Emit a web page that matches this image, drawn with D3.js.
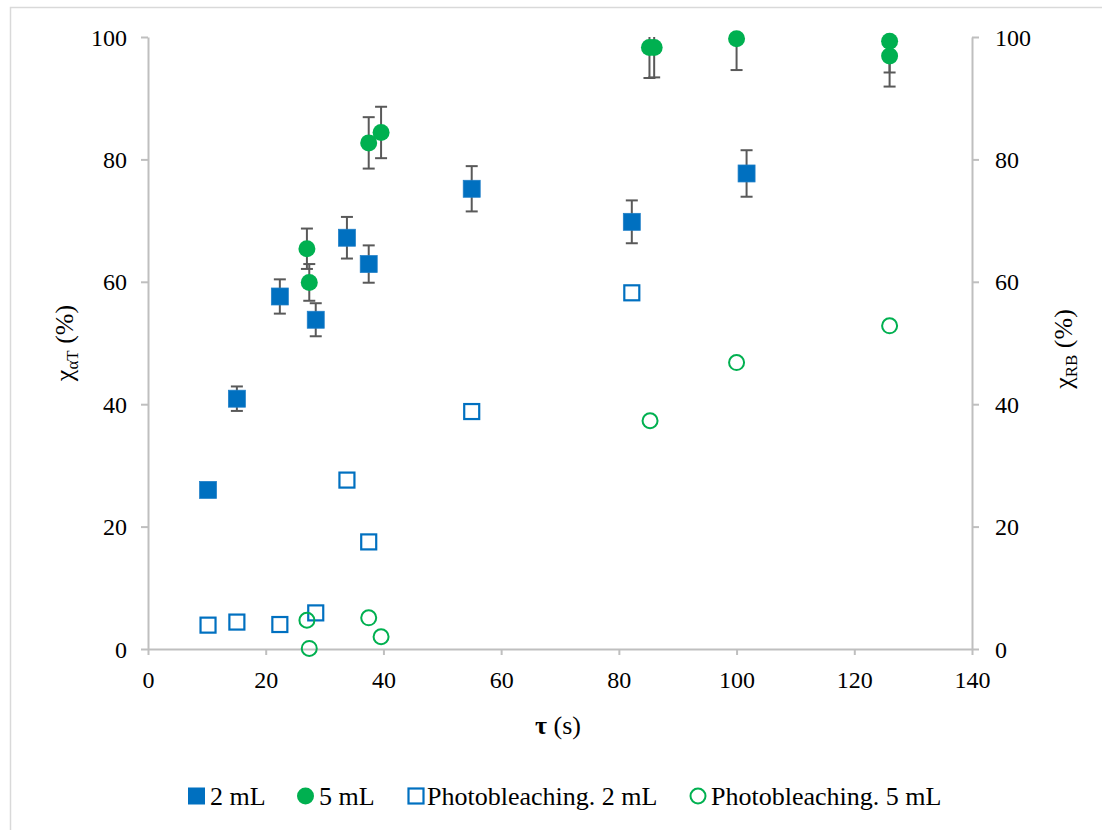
<!DOCTYPE html>
<html><head><meta charset="utf-8">
<script src="https://cdn.jsdelivr.net/npm/d3@7"></script>
<style>
html,body{margin:0;padding:0;background:#fff;}
svg text{font-family:"Liberation Serif","Tinos","DejaVu Serif",serif !important;fill:#000;}
</style></head>
<body><svg id="chart" width="1102" height="830"></svg>
<script>
// ---- data ----
const xTicks = [0,20,40,60,80,100,120,140];
const yTicks = [0,20,40,60,80,100];

const tau2 = [10.2,15.1,22.4,28.5,33.8,37.5,55.0,82.2,101.7];
const conv2 = [26.0,40.9,57.6,53.8,67.2,62.9,75.2,69.8,77.7];
const err2 = [0.9,2.0,2.8,2.7,3.4,3.05,3.7,3.5,3.8];

const tau5 = [27.0,27.4,37.5,39.6,85.2,86.0,100.0,126.0,126.0];
const conv5 = [65.4,59.9,82.7,84.4,98.3,98.3,99.7,99.3,96.9];
const err5 = [3.3,3.0,4.2,4.2,5.0,4.9,5.1,5.1,5.0];

const tauPB2 = [10.2,15.1,22.4,28.5,33.8,37.5,55.0,82.2];
const pb2 = [3.9,4.4,4.0,5.9,27.6,17.5,38.8,58.2];

const tauPB5 = [27.0,27.4,37.5,39.6,85.3,100.0,126.0];
const pb5 = [4.7,0.1,5.1,2.0,37.3,46.8,52.8];

const legendLabels = ["2 mL","5 mL","Photobleaching. 2 mL","Photobleaching. 5 mL"];

// ---- drawing ----
const blue = "#0070C0", green = "#00B050", errCol = "#595959", axisCol = "#BFBFBF";
const FONT = '"Liberation Serif","Tinos","DejaVu Serif",serif';
const svg = d3.select("#chart");
const L = 148, R = 972, T = 37, B = 649;
const x = d3.scaleLinear().domain([0,140]).range([L,R]);
const y = d3.scaleLinear().domain([0,100]).range([B,T]);

// outer border
svg.append("rect").attr("x",10.5).attr("y",7.5).attr("width",1100).attr("height",840)
  .attr("fill","none").attr("stroke","#D9D9D9").attr("stroke-width",1.5);

function styleAxis(g){
  g.attr("font-family",FONT);
  g.select(".domain").attr("stroke",axisCol).attr("stroke-width",2);
  g.selectAll(".tick line").attr("stroke",axisCol).attr("stroke-width",2);
  g.selectAll("text").attr("font-size",24).style("font-family",FONT).attr("fill","#000");
}
const xAxis = svg.append("g").attr("transform",`translate(0,${B})`)
  .call(d3.axisBottom(x).tickValues(xTicks).tickSize(6).tickSizeOuter(0).tickPadding(16));
styleAxis(xAxis);
const yAxisL = svg.append("g").attr("transform",`translate(${L},0)`)
  .call(d3.axisLeft(y).tickValues(yTicks).tickSize(7).tickSizeOuter(0).tickPadding(14));
styleAxis(yAxisL);
yAxisL.selectAll("text").attr("dy","0.34em");
const yAxisR = svg.append("g").attr("transform",`translate(${R},0)`)
  .call(d3.axisRight(y).tickValues(yTicks).tickSize(7).tickSizeOuter(0).tickPadding(16));
styleAxis(yAxisR);
yAxisR.selectAll("text").attr("dy","0.34em");

// axis titles
const xt = svg.append("text").attr("x",558).attr("y",734).attr("text-anchor","middle").attr("font-size",26).style("font-family",FONT);
xt.append("tspan").attr("font-weight","bold").text("τ");
xt.append("tspan").text(" (s)");

function yTitle(cx, cy, sub){
  const t = svg.append("text").attr("transform",`translate(${cx},${cy}) rotate(-90)`)
    .attr("text-anchor","middle").attr("font-size",26).style("font-family",FONT);
  t.append("tspan").text("χ");
  t.append("tspan").attr("font-size",17).attr("dy",5).text(sub);
  t.append("tspan").attr("dy",-5).text(" (%)");
}
yTitle(73, 343, "αT");
yTitle(1072, 349, "RB");

// clip for plot area
svg.append("clipPath").attr("id","plotclip").append("rect")
  .attr("x",L-20).attr("y",T).attr("width",R-L+40).attr("height",B-T+20);
const plot = svg.append("g");
const errG = plot.append("g").attr("clip-path","url(#plotclip)");

function errorBars(g, xs, ys, es){
  const d = xs.map((v,i)=>({x:v,y:ys[i],e:es[i]}));
  const gg = g.append("g").attr("stroke",errCol).attr("stroke-width",2).attr("fill","none");
  gg.selectAll("line.v").data(d).join("line").attr("class","v")
    .attr("x1",p=>x(p.x)).attr("x2",p=>x(p.x)).attr("y1",p=>y(p.y-p.e)).attr("y2",p=>y(p.y+p.e));
  gg.selectAll("line.lo").data(d).join("line").attr("class","lo")
    .attr("x1",p=>x(p.x)-6).attr("x2",p=>x(p.x)+6).attr("y1",p=>y(p.y-p.e)).attr("y2",p=>y(p.y-p.e));
  gg.selectAll("line.hi").data(d.filter(p=>p.y+p.e<=100)).join("line").attr("class","hi")
    .attr("x1",p=>x(p.x)-6).attr("x2",p=>x(p.x)+6).attr("y1",p=>y(p.y+p.e)).attr("y2",p=>y(p.y+p.e));
}

// Series 1: 2 mL
errorBars(errG, tau2, conv2, err2);
plot.append("g").selectAll("rect").data(tau2.map((v,i)=>[v,conv2[i]])).join("rect")
  .attr("x",d=>x(d[0])-8.5).attr("y",d=>y(d[1])-8.5).attr("width",17).attr("height",17)
  .attr("fill",blue).attr("stroke","#1F7FC8").attr("stroke-width",0.75);

// Series 2: 5 mL
errorBars(plot.append("g").attr("clip-path","url(#plotclip)"), tau5, conv5, err5);
plot.append("g").selectAll("circle").data(tau5.map((v,i)=>[v,conv5[i]])).join("circle")
  .attr("cx",d=>x(d[0])).attr("cy",d=>y(d[1])).attr("r",8.5).attr("fill",green);

// Series 3: photobleaching 2 mL
plot.append("g").selectAll("rect").data(tauPB2.map((v,i)=>[v,pb2[i]])).join("rect")
  .attr("x",d=>x(d[0])-7.5).attr("y",d=>y(d[1])-7.5).attr("width",15).attr("height",15)
  .attr("fill","none").attr("stroke",blue).attr("stroke-width",2.2);

// Series 4: photobleaching 5 mL
plot.append("g").selectAll("circle").data(tauPB5.map((v,i)=>[v,pb5[i]])).join("circle")
  .attr("cx",d=>x(d[0])).attr("cy",d=>y(d[1])).attr("r",7.5)
  .attr("fill","none").attr("stroke",green).attr("stroke-width",2);

// legend
const lg = svg.append("g").style("font-family",FONT);
const ly = 796;
lg.append("rect").attr("x",188).attr("y",ly-8.5).attr("width",17).attr("height",17).attr("fill",blue);
lg.append("text").attr("x",210).attr("y",ly+9).attr("font-size",26).text(legendLabels[0]);
lg.append("circle").attr("cx",305.5).attr("cy",ly).attr("r",8.5).attr("fill",green);
lg.append("text").attr("x",319).attr("y",ly+9).attr("font-size",26).text(legendLabels[1]);
lg.append("rect").attr("x",408.5).attr("y",ly-7.5).attr("width",15).attr("height",15)
  .attr("fill","none").attr("stroke",blue).attr("stroke-width",2.2);
lg.append("text").attr("x",427).attr("y",ly+9).attr("font-size",26).text(legendLabels[2]);
lg.append("circle").attr("cx",698).attr("cy",ly).attr("r",7.5)
  .attr("fill","none").attr("stroke",green).attr("stroke-width",2);
lg.append("text").attr("x",711).attr("y",ly+9).attr("font-size",26).text(legendLabels[3]);
</script></body></html>
